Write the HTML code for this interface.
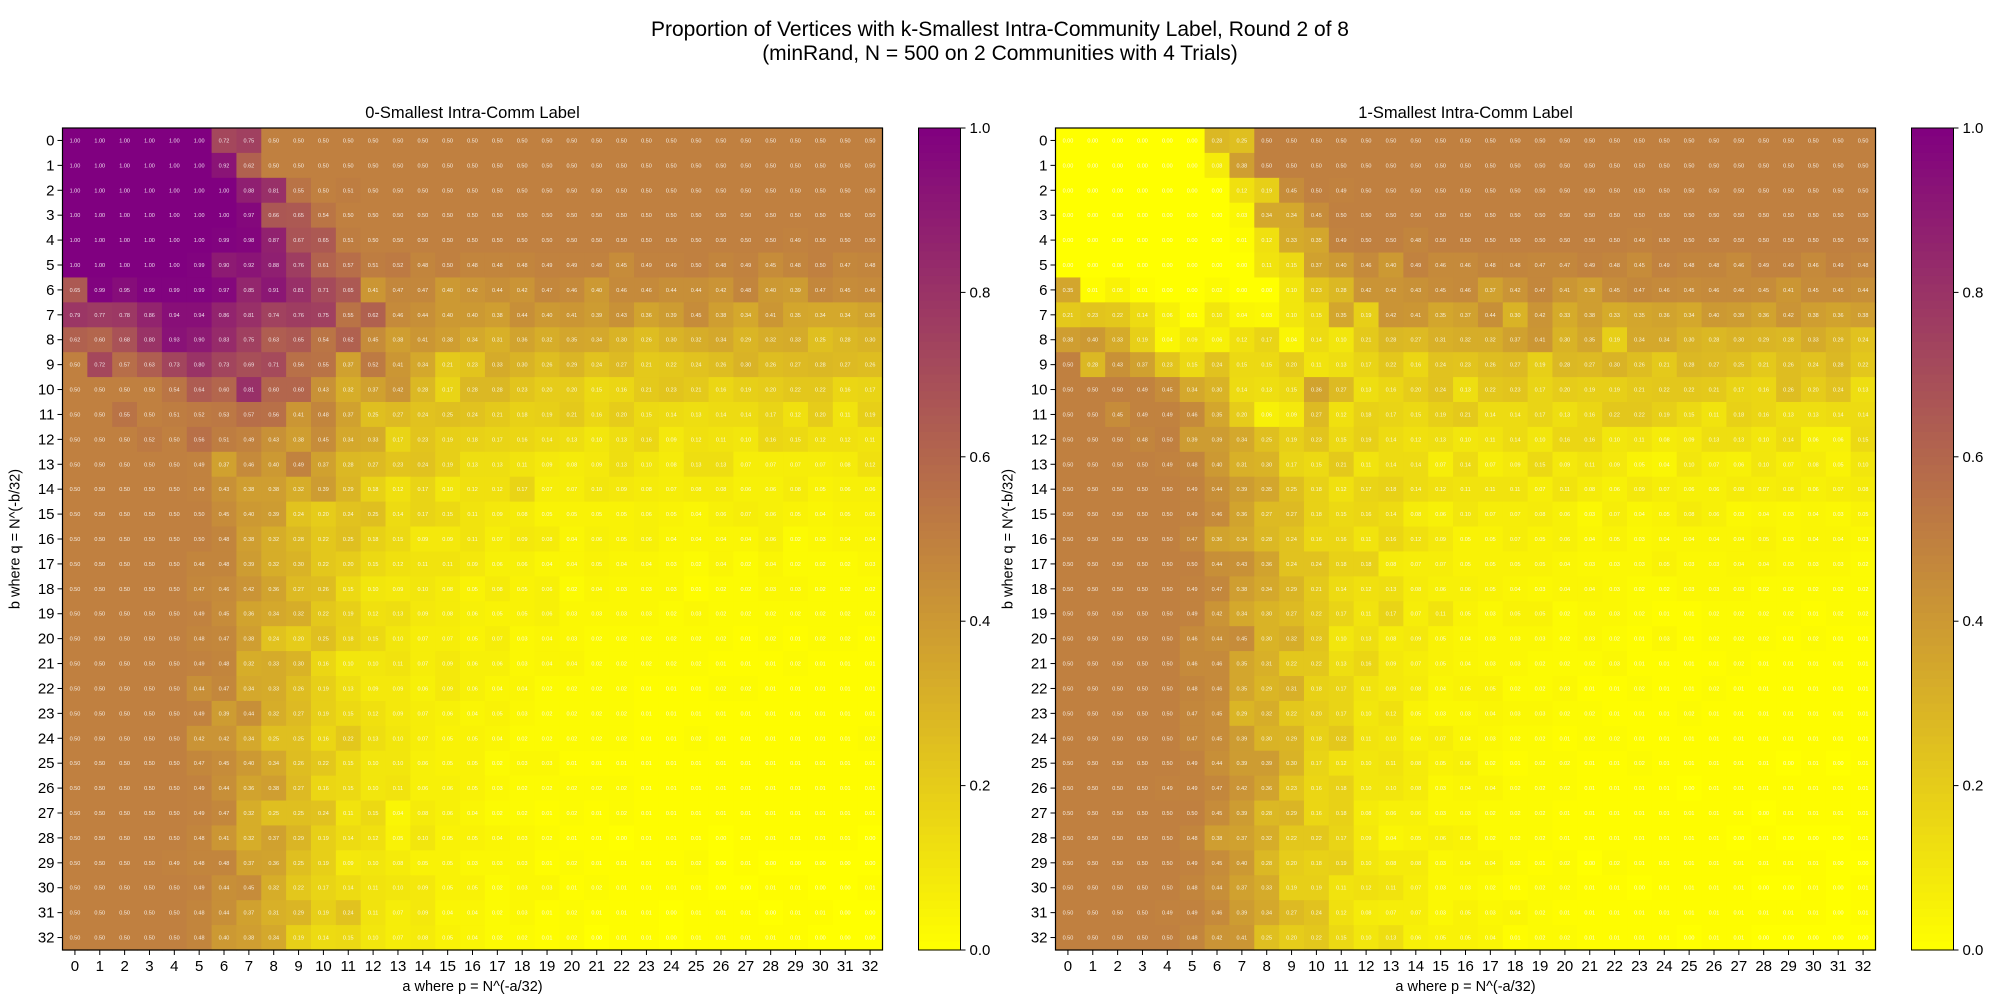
<!DOCTYPE html>
<html><head><meta charset="utf-8"><style>
html,body{margin:0;padding:0;background:#fff;}
svg{display:block;font-family:"Liberation Sans","DejaVu Sans",sans-serif;}
</style></head><body>
<svg id="chart" width="2000" height="1000" viewBox="0 0 2000 1000" xmlns="http://www.w3.org/2000/svg">
<text x="1000" y="36" text-anchor="middle" font-size="21">Proportion of Vertices with k-Smallest Intra-Community Label, Round 2 of 8</text>
<text x="1000" y="60" text-anchor="middle" font-size="21">(minRand, N = 500 on 2 Communities with 4 Trials)</text>
</svg>
<script>
const rowLabels=[...Array(33).keys()].map(String);
const colLabels=[...Array(33).keys()].map(String);
const cbTicks=[0,0.2,0.4,0.6,0.8,1.0];
const leftValues=[
[1,1,1,1,1,1,.72,.75,.5,.5,.5,.5,.5,.5,.5,.5,.5,.5,.5,.5,.5,.5,.5,.5,.5,.5,.5,.5,.5,.5,.5,.5,.5],
[1,1,1,1,1,1,.92,.62,.5,.5,.5,.5,.5,.5,.5,.5,.5,.5,.5,.5,.5,.5,.5,.5,.5,.5,.5,.5,.5,.5,.5,.5,.5],
[1,1,1,1,1,1,1,.88,.81,.55,.5,.51,.5,.5,.5,.5,.5,.5,.5,.5,.5,.5,.5,.5,.5,.5,.5,.5,.5,.5,.5,.5,.5],
[1,1,1,1,1,1,1,.97,.66,.65,.54,.5,.5,.5,.5,.5,.5,.5,.5,.5,.5,.5,.5,.5,.5,.5,.5,.5,.5,.5,.5,.5,.5],
[1,1,1,1,1,1,.99,.98,.87,.67,.65,.51,.5,.5,.5,.5,.5,.5,.5,.5,.5,.5,.5,.5,.5,.5,.5,.5,.5,.49,.5,.5,.5],
[1,1,1,1,1,.99,.9,.92,.88,.76,.61,.57,.51,.52,.48,.5,.48,.48,.48,.49,.49,.49,.45,.49,.49,.5,.48,.49,.45,.48,.5,.47,.48],
[.65,.99,.95,.99,.99,.99,.97,.85,.91,.81,.71,.65,.41,.47,.47,.4,.42,.44,.42,.47,.46,.4,.46,.46,.44,.44,.42,.48,.4,.39,.47,.45,.46],
[.79,.77,.78,.86,.94,.94,.86,.81,.74,.76,.75,.55,.62,.46,.44,.4,.4,.38,.44,.4,.41,.39,.43,.36,.39,.45,.38,.34,.41,.35,.34,.34,.36],
[.62,.6,.68,.8,.93,.9,.83,.75,.63,.65,.54,.62,.45,.38,.41,.38,.34,.31,.36,.32,.35,.34,.3,.26,.3,.32,.34,.29,.32,.33,.25,.28,.3],
[.5,.72,.57,.63,.73,.8,.73,.69,.71,.56,.55,.37,.52,.41,.34,.21,.23,.33,.3,.26,.29,.24,.27,.21,.22,.24,.26,.3,.26,.27,.28,.27,.26],
[.5,.5,.5,.5,.54,.64,.6,.81,.6,.6,.43,.32,.37,.42,.28,.17,.28,.28,.23,.2,.2,.15,.16,.21,.23,.21,.16,.19,.2,.22,.22,.16,.17],
[.5,.5,.55,.5,.51,.52,.53,.57,.56,.41,.48,.37,.25,.27,.24,.25,.24,.21,.18,.19,.21,.16,.2,.15,.14,.13,.14,.14,.17,.12,.2,.11,.19],
[.5,.5,.5,.52,.5,.56,.51,.49,.43,.38,.45,.34,.33,.17,.23,.19,.18,.17,.16,.14,.13,.1,.13,.16,.09,.12,.11,.1,.16,.15,.12,.12,.11],
[.5,.5,.5,.5,.5,.49,.37,.46,.4,.49,.37,.28,.27,.23,.24,.19,.13,.13,.11,.09,.08,.09,.13,.1,.08,.13,.13,.07,.07,.07,.07,.08,.12],
[.5,.5,.5,.5,.5,.49,.43,.38,.38,.32,.39,.29,.18,.12,.17,.1,.12,.12,.17,.07,.07,.1,.09,.08,.07,.08,.08,.06,.06,.08,.05,.06,.06],
[.5,.5,.5,.5,.5,.5,.45,.4,.39,.24,.2,.24,.25,.14,.17,.15,.11,.09,.08,.05,.05,.05,.05,.06,.05,.04,.06,.07,.06,.05,.04,.05,.05],
[.5,.5,.5,.5,.5,.5,.48,.38,.32,.28,.22,.25,.18,.15,.09,.09,.11,.07,.09,.08,.04,.06,.05,.06,.04,.04,.04,.04,.06,.02,.03,.04,.04],
[.5,.5,.5,.5,.5,.48,.48,.39,.32,.3,.22,.2,.15,.12,.11,.11,.09,.06,.06,.04,.04,.05,.04,.04,.03,.02,.04,.02,.04,.02,.02,.02,.03],
[.5,.5,.5,.5,.5,.47,.46,.42,.36,.27,.26,.15,.1,.09,.1,.08,.05,.08,.05,.06,.02,.04,.03,.03,.03,.01,.02,.02,.03,.03,.02,.02,.02],
[.5,.5,.5,.5,.5,.49,.45,.36,.34,.32,.22,.19,.12,.13,.09,.08,.06,.05,.05,.06,.03,.03,.03,.03,.02,.03,.02,.02,.02,.02,.02,.02,.02],
[.5,.5,.5,.5,.5,.48,.47,.38,.24,.2,.25,.18,.15,.1,.07,.07,.05,.07,.03,.04,.03,.02,.02,.02,.02,.02,.02,.01,.02,.01,.02,.02,.01],
[.5,.5,.5,.5,.5,.49,.48,.32,.33,.3,.16,.1,.1,.11,.07,.09,.06,.06,.03,.04,.04,.02,.02,.02,.02,.02,.01,.01,.01,.02,.01,.01,.01],
[.5,.5,.5,.5,.5,.44,.47,.34,.33,.26,.19,.13,.09,.09,.06,.09,.06,.04,.04,.02,.02,.02,.02,.01,.01,.01,.02,.02,.01,.01,.01,.01,.01],
[.5,.5,.5,.5,.5,.49,.39,.44,.32,.27,.19,.15,.12,.09,.07,.06,.04,.05,.03,.02,.02,.02,.02,.01,.01,.01,.01,.01,.01,.01,.01,.01,.01],
[.5,.5,.5,.5,.5,.42,.42,.34,.25,.25,.16,.22,.13,.1,.07,.05,.05,.04,.02,.02,.02,.02,.02,.01,.01,.02,.01,.01,.01,.01,.01,.01,.02],
[.5,.5,.5,.5,.5,.47,.45,.4,.34,.26,.22,.15,.1,.1,.06,.05,.05,.02,.03,.03,.01,.01,.01,.01,.01,.01,.01,.01,.01,.01,.01,.01,.01],
[.5,.5,.5,.5,.5,.49,.44,.36,.38,.27,.16,.15,.1,.11,.06,.06,.05,.03,.02,.02,.02,.02,.02,.01,.01,.01,.01,.01,.01,.01,.01,.01,.01],
[.5,.5,.5,.5,.5,.49,.47,.32,.25,.25,.24,.11,.15,.04,.08,.06,.04,.02,.02,.01,.02,.01,.02,.01,.01,.01,.01,.01,.01,.01,.01,.01,.01],
[.5,.5,.5,.5,.5,.48,.41,.32,.37,.29,.19,.14,.12,.05,.1,.05,.05,.04,.03,.02,.01,.01,0,.01,.01,.01,0,.01,.01,.01,.01,.01,0],
[.5,.5,.5,.5,.49,.48,.48,.37,.36,.25,.19,.09,.1,.08,.05,.05,.03,.03,.03,.01,.02,.01,.01,.01,.01,.02,0,.01,0,0,0,0,0],
[.5,.5,.5,.5,.5,.49,.44,.45,.32,.22,.17,.14,.11,.1,.09,.05,.05,.02,.03,.03,.01,.02,.01,.01,.01,.01,0,0,.01,.01,0,0,.01],
[.5,.5,.5,.5,.5,.48,.44,.37,.31,.29,.19,.24,.11,.07,.09,.04,.04,.02,.03,.01,.02,.01,.01,.01,0,.01,.01,.01,0,.01,.01,0,0],
[.5,.5,.5,.5,.5,.48,.4,.38,.34,.19,.14,.15,.1,.07,.08,.05,.04,.02,.02,.01,.02,0,.01,.01,0,.01,.01,.01,.01,.01,0,0,0]
];
const rightValues=[
[0,0,0,0,0,0,.28,.25,.5,.5,.5,.5,.5,.5,.5,.5,.5,.5,.5,.5,.5,.5,.5,.5,.5,.5,.5,.5,.5,.5,.5,.5,.5],
[0,0,0,0,0,0,.08,.38,.5,.5,.5,.5,.5,.5,.5,.5,.5,.5,.5,.5,.5,.5,.5,.5,.5,.5,.5,.5,.5,.5,.5,.5,.5],
[0,0,0,0,0,0,0,.12,.19,.45,.5,.49,.5,.5,.5,.5,.5,.5,.5,.5,.5,.5,.5,.5,.5,.5,.5,.5,.5,.5,.5,.5,.5],
[0,0,0,0,0,0,0,.03,.34,.34,.45,.5,.5,.5,.5,.5,.5,.5,.5,.5,.5,.5,.5,.5,.5,.5,.5,.5,.5,.5,.5,.5,.5],
[0,0,0,0,0,0,0,.01,.12,.33,.35,.49,.5,.5,.48,.5,.5,.5,.5,.5,.5,.5,.5,.49,.5,.5,.5,.5,.5,.5,.5,.5,.5],
[0,0,0,0,0,0,0,0,.11,.15,.37,.4,.46,.4,.49,.46,.46,.48,.48,.47,.47,.49,.48,.45,.49,.48,.48,.46,.49,.49,.46,.49,.48],
[.35,.01,.05,.01,0,0,.02,0,0,.1,.23,.28,.42,.42,.43,.45,.46,.37,.42,.47,.41,.38,.45,.47,.46,.45,.46,.46,.45,.41,.45,.45,.44],
[.21,.23,.22,.14,.06,.01,.1,.04,.03,.1,.15,.35,.19,.42,.41,.35,.37,.44,.3,.42,.33,.38,.33,.35,.36,.34,.4,.39,.36,.42,.38,.36,.38],
[.38,.4,.33,.19,.04,.09,.06,.12,.17,.04,.14,.1,.21,.28,.27,.31,.32,.32,.37,.41,.3,.35,.19,.34,.34,.3,.28,.3,.29,.28,.33,.29,.24],
[.5,.28,.43,.37,.23,.15,.24,.15,.15,.2,.11,.13,.17,.22,.16,.24,.23,.26,.27,.19,.28,.27,.3,.26,.21,.28,.27,.25,.21,.26,.24,.28,.22],
[.5,.5,.5,.49,.45,.34,.3,.14,.13,.15,.36,.27,.13,.16,.2,.24,.13,.22,.23,.17,.2,.19,.19,.21,.22,.22,.21,.17,.16,.26,.2,.24,.13],
[.5,.5,.45,.49,.49,.46,.35,.2,.06,.09,.27,.12,.18,.17,.15,.19,.21,.14,.14,.17,.13,.16,.22,.22,.19,.15,.11,.18,.16,.13,.13,.14,.14],
[.5,.5,.5,.48,.5,.39,.39,.34,.25,.19,.23,.15,.19,.14,.12,.13,.1,.11,.14,.1,.16,.16,.1,.11,.08,.09,.13,.13,.1,.14,.06,.06,.15],
[.5,.5,.5,.5,.49,.48,.4,.31,.3,.17,.15,.21,.11,.14,.14,.07,.14,.07,.09,.15,.09,.11,.09,.05,.04,.1,.07,.06,.1,.07,.08,.05,.1],
[.5,.5,.5,.5,.5,.49,.44,.39,.35,.25,.18,.12,.17,.18,.14,.12,.11,.11,.11,.07,.11,.08,.06,.09,.07,.06,.06,.08,.07,.08,.06,.07,.08],
[.5,.5,.5,.5,.5,.49,.46,.36,.27,.27,.18,.15,.16,.14,.08,.06,.1,.07,.07,.08,.06,.03,.07,.04,.05,.08,.06,.03,.04,.03,.04,.03,.05],
[.5,.5,.5,.5,.5,.47,.36,.34,.28,.24,.16,.16,.11,.16,.12,.09,.05,.05,.07,.05,.06,.04,.05,.03,.04,.04,.04,.04,.05,.03,.04,.04,.03],
[.5,.5,.5,.5,.5,.5,.44,.43,.36,.24,.24,.18,.18,.08,.07,.07,.05,.05,.05,.05,.04,.03,.03,.03,.05,.03,.03,.04,.04,.03,.03,.03,.02],
[.5,.5,.5,.5,.5,.49,.47,.38,.34,.29,.21,.14,.12,.13,.08,.06,.06,.05,.04,.03,.04,.04,.03,.02,.02,.03,.03,.03,.02,.02,.02,.02,.02],
[.5,.5,.5,.5,.5,.49,.42,.34,.3,.27,.22,.17,.11,.17,.07,.11,.05,.03,.05,.05,.02,.03,.03,.02,.01,.01,.02,.02,.02,.02,.01,.02,.02],
[.5,.5,.5,.5,.5,.46,.44,.45,.3,.32,.23,.1,.13,.08,.09,.05,.04,.03,.03,.03,.02,.03,.02,.01,.03,.01,.02,.02,.02,.01,.02,.01,.01],
[.5,.5,.5,.5,.5,.46,.46,.35,.31,.22,.22,.13,.16,.09,.07,.05,.04,.03,.03,.02,.02,.02,.03,.01,.01,.01,.01,.02,.01,.01,.01,.01,.01],
[.5,.5,.5,.5,.5,.48,.46,.35,.29,.31,.18,.17,.11,.09,.08,.04,.05,.05,.02,.02,.03,.01,.01,.02,.01,.01,.02,.01,.01,.01,.01,.01,.01],
[.5,.5,.5,.5,.5,.47,.45,.29,.32,.22,.2,.17,.1,.12,.05,.03,.03,.04,.03,.03,.02,.02,.01,.01,.01,.02,.01,.01,.01,.01,.01,.01,.01],
[.5,.5,.5,.5,.5,.47,.45,.39,.3,.29,.18,.22,.11,.1,.06,.07,.04,.03,.02,.02,.01,.02,.02,.01,.01,.01,.01,.01,.01,.01,.01,.01,.01],
[.5,.5,.5,.5,.5,.49,.44,.39,.39,.3,.17,.12,.1,.11,.08,.05,.06,.02,.01,.02,.02,.01,.01,.02,.01,.01,.01,.01,.01,0,.01,0,.01],
[.5,.5,.5,.5,.49,.49,.47,.42,.36,.23,.16,.18,.1,.1,.08,.03,.04,.04,.02,.02,.02,.01,.01,.01,.01,0,.01,.01,.01,.01,.01,.01,.01],
[.5,.5,.5,.5,.5,.5,.45,.39,.28,.29,.16,.18,.08,.06,.06,.03,.03,.02,.02,.02,.01,.01,.01,.01,.01,.01,.01,.01,0,.01,.01,.01,.01],
[.5,.5,.5,.5,.5,.48,.38,.37,.32,.22,.22,.17,.09,.04,.05,.06,.05,.02,.02,.02,.01,.01,.01,.01,.01,.01,.01,0,.01,0,0,0,.01],
[.5,.5,.5,.5,.5,.49,.45,.4,.28,.2,.18,.19,.1,.08,.08,.03,.04,.04,.02,.01,.02,0,.02,.01,.01,.01,.01,.01,.01,.01,.01,0,0],
[.5,.5,.5,.5,.5,.48,.44,.37,.33,.19,.19,.11,.12,.11,.07,.03,.03,.02,.01,.02,.02,.01,.01,0,.01,.01,.01,.01,0,0,.01,0,.01],
[.5,.5,.5,.5,.49,.49,.46,.39,.34,.27,.24,.12,.08,.07,.07,.03,.05,.03,.04,.02,.01,.01,.01,.01,.01,.01,.01,.01,.01,.01,.01,0,.01],
[.5,.5,.5,.5,.5,.48,.42,.41,.25,.2,.22,.15,.1,.13,.06,.05,.05,.04,.01,.02,.02,.01,.01,.01,.01,0,.01,.01,0,0,0,0,0]
];
const panelTitles=["0-Smallest Intra-Comm Label","1-Smallest Intra-Comm Label"];

const NS="http://www.w3.org/2000/svg";
const svg=document.getElementById('chart');
function mk(tag,attrs,parent){const e=document.createElementNS(NS,tag);for(const k in attrs)e.setAttribute(k,attrs[k]);(parent||svg).appendChild(e);return e;}
function color(v){ // linear yellow -> purple
  const r=Math.round(255-127*v), g=Math.round(255-255*v), b=Math.round(128*v);
  return `rgb(${r},${g},${b})`;
}
const TOP=128, H=822, W=820;
function drawPanel(px,vals,title,idx){
  const g=mk('g',{});
  
  
  const nr=rowLabels.length, nc=colLabels.length;
  const cw=W/nc, ch=H/nr;
  const xS=c=>px+c*cw, yS=r=>TOP+r*ch;
  for(let r=0;r<nr;r++)for(let c=0;c<nc;c++){
    const v=vals[r][c];
    const rect=mk('rect',{x:xS(c),y:yS(r),width:cw+0.6,height:ch+0.6,fill:color(v)},g);
    
    
    const t=mk('text',{x:xS(c)+cw/2,y:yS(r)+ch/2+2,'text-anchor':'middle','font-size':'5.5',fill:'#fff','fill-opacity':'0.85'},g);
    
    
    t.textContent=v.toFixed(2);
  }
  const fr=mk('rect',{x:px,y:TOP,width:W,height:H,fill:'none',stroke:'#000','stroke-width':1.2},g);
  
  
  for(let r=0;r<nr;r++){
    const y=yS(r)+ch/2;
    mk('line',{x1:px-5,x2:px,y1:y,y2:y,stroke:'#000','stroke-width':1},g);
    const t=mk('text',{x:px-8,y:y+5,'text-anchor':'end','font-size':'15'},g);
    
    
    t.textContent=rowLabels[r];
  }
  for(let c=0;c<nc;c++){
    const x=xS(c)+cw/2;
    mk('line',{x1:x,x2:x,y1:TOP+H,y2:TOP+H+5,stroke:'#000','stroke-width':1},g);
    const t=mk('text',{x:x,y:TOP+H+21,'text-anchor':'middle','font-size':'15'},g);
    
    
    t.textContent=colLabels[c];
  }
  const tt=mk('text',{x:px+W/2,y:118,'text-anchor':'middle','font-size':'16.5'},g);
  
  
  tt.textContent=title;
  const xl=mk('text',{x:px+W/2,y:991,'text-anchor':'middle','font-size':'14.5'},g);
  
  
  xl.textContent='a where p = N^(-a/32)';
  const yx=px-43, yy=TOP+H/2;
  const yl=mk('text',{x:yx,y:yy,'text-anchor':'middle','font-size':'14.5',transform:`rotate(-90 ${yx} ${yy})`},g);
  
  
  yl.textContent='b where q = N^(-b/32)';
  // colorbar
  const cx=px+W+36, cwid=42;
  const cb=mk('g',{},g);
  
  
  const n=100;
  for(let i=0;i<n;i++){
    const v=1-(i+0.5)/n;
    mk('rect',{x:cx,y:TOP+i*H/n,width:cwid,height:H/n+0.6,fill:color(v)},cb);
  }
  mk('rect',{x:cx,y:TOP,width:cwid,height:H,fill:'none',stroke:'#000','stroke-width':1},cb);
  cbTicks.forEach(tv=>{
    const y=TOP+H-tv*H;
    mk('line',{x1:cx+cwid,x2:cx+cwid+5,y1:y,y2:y,stroke:'#000','stroke-width':1},cb);
    const t=mk('text',{x:cx+cwid+9,y:y+5,'font-size':'15'},cb);
    
    
    t.textContent=tv.toFixed(1);
  });
}
drawPanel(62.5,leftValues,panelTitles[0],0);
drawPanel(1055.5,rightValues,panelTitles[1],1);
</script>
</body></html>
